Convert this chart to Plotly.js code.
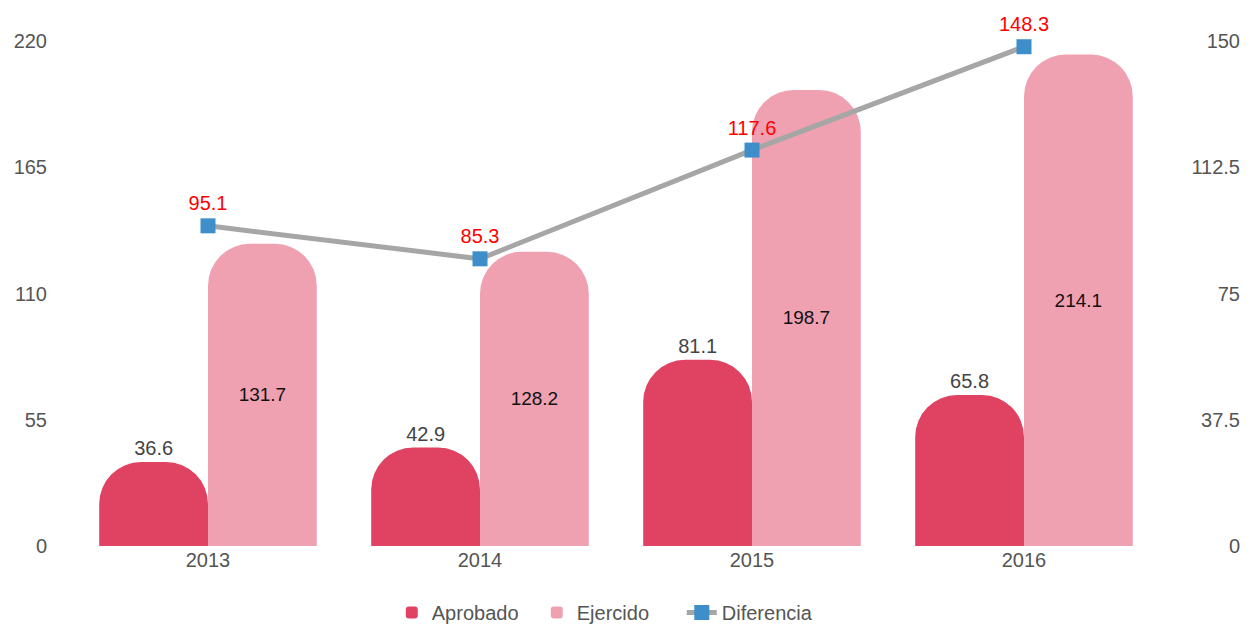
<!DOCTYPE html>
<html><head><meta charset="utf-8">
<script src="https://cdn.plot.ly/plotly-3.0.1.min.js"></script>
<style>body{margin:0;background:#fff}#c{width:1252px;height:625px}</style>
</head><body><div id="c"></div>
<script>
const years = ['2013','2014','2015','2016'];
const aprobado = [36.6, 42.9, 81.1, 65.8];
const ejercido = [131.7, 128.2, 198.7, 214.1];
const diferencia = [95.1, 85.3, 117.6, 148.3];
const leftTicks = [0, 55, 110, 165, 220];
const rightTicks = [0, 37.5, 75, 112.5, 150];

const FONT = 'Liberation Sans, Arial, Helvetica, sans-serif';
const data = [
  {type:'bar', name:'Aprobado', x:years, y:aprobado, marker:{color:'#e04262', cornerradius:42},
   text:aprobado.map(v=>v.toFixed(1)), textposition:'outside', cliponaxis:false,
   textfont:{family:FONT,size:20,color:'#444'}, hoverinfo:'y'},
  {type:'bar', name:'Ejercido', x:years, y:ejercido, marker:{color:'#f0a1b1', cornerradius:42},
   text:ejercido.map(v=>v.toFixed(1)), textposition:'inside', insidetextanchor:'middle',
   textfont:{family:FONT,size:19,color:'#111'}, hoverinfo:'y'},
  {type:'scatter', mode:'lines+markers+text', name:'Diferencia', x:years, y:diferencia, yaxis:'y2',
   line:{color:'#a6a6a6', width:5}, marker:{symbol:'square', size:15, color:'#3d8ec9'},
   text:diferencia.map(v=>v.toFixed(1)), textposition:'top center', cliponaxis:false,
   textfont:{family:FONT,size:20,color:'#ff0000'}}
];
const layout = {
  width:1252, height:625,
  margin:{l:72, r:12, t:41, b:79, autoexpand:false},
  paper_bgcolor:'#fff', plot_bgcolor:'#fff',
  font:{family:FONT, size:20, color:'#555'},
  barmode:'group', bargap:0.2, bargroupgap:0,
  showlegend:true,
  legend:{orientation:'h', x:0.46, xanchor:'center', yref:'container', y:0.02, yanchor:'middle', font:{size:20,color:'#555'}, itemwidth:30, entrywidth:100},
  xaxis:{type:'category', domain:[0, 0.9315], showgrid:false, zeroline:false, showline:false, ticks:'', tickfont:{size:20,color:'#555'}},
  yaxis:{range:[0,220], tickvals:leftTicks, ticktext:leftTicks.map(String), showgrid:false, zeroline:false, showline:false, ticks:'', ticklabelstandoff:24, tickfont:{size:20,color:'#555'}},
  yaxis2:{range:[0,150], tickvals:rightTicks, ticktext:rightTicks.map(String), overlaying:'y', anchor:'free', position:1, side:'left', showgrid:false, zeroline:false, showline:false, ticks:'', ticklabelstandoff:0, tickfont:{size:20,color:'#555'}}
};
Plotly.newPlot('c', data, layout, {displayModeBar:false, staticPlot:true});
</script></body></html>
